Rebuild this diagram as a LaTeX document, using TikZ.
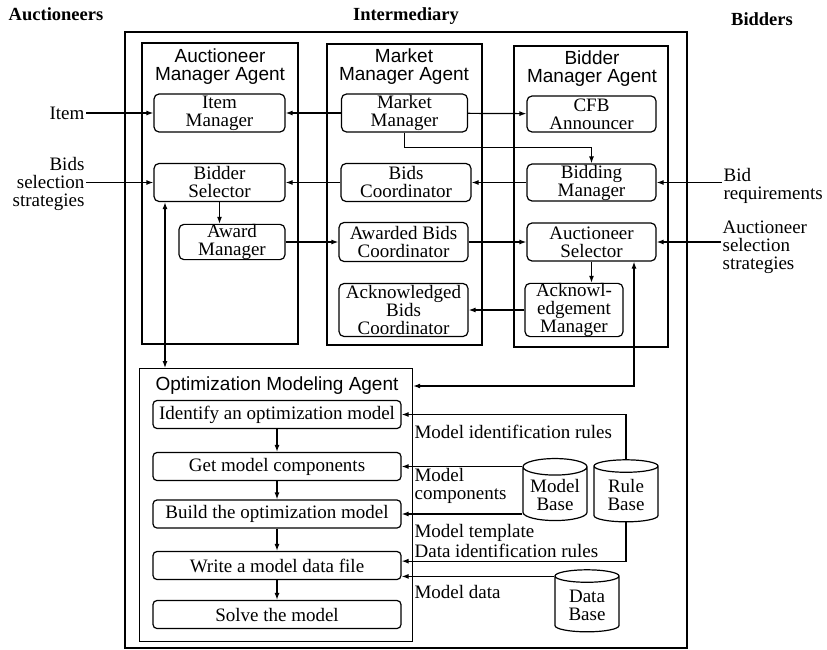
\documentclass[tikz,border=0pt]{standalone}
\usepackage{fontspec}
\setmainfont{Liberation Serif}
\setsansfont{Liberation Sans}
\usetikzlibrary{arrows.meta, shapes.geometric}

\begin{document}
\begin{tikzpicture}[x=1pt, y=-1pt, line width=1.2pt, >={Latex[length=7pt,width=5pt]},
  txt/.style={font=\fontsize{19}{18}\selectfont, inner sep=1pt},
  title/.style={txt, font=\fontsize{18.5}{18}\selectfont\bfseries},
  head/.style={font=\sffamily\fontsize{19}{18}\selectfont, align=center, inner sep=0pt},
  unit/.style={txt, draw, rounded corners=5pt, align=center, inner ysep=0pt},
  stage/.style={txt, draw, rounded corners=4pt, minimum width=248pt, minimum height=28pt, inner ysep=0pt},
  store/.style={txt, draw, cylinder, shape border rotate=90, aspect=0.32, minimum width=64pt, minimum height=62pt, align=center},
  lbl/.style={txt, align=left, anchor=west}]
\useasboundingbox (0,0) rectangle (827,650);

\node[title] (tauc) at (56,14) {Auctioneers};
\node[title] (tint) at (406,16) {Intermediary};
\node[title] (tbid) at (762,19) {Bidders};

\draw (125,32) rectangle (687,648);
\draw (142,43) rectangle (298,344);
\draw (327,44) rectangle (482,345);
\draw (514,46) rectangle (668,347);
\node[head] (hauc) at (220,67) {Auctioneer\\Manager Agent};
\node[head] (hmkt) at (404,67) {Market\\Manager Agent};
\node[head] (hbid) at (592,69) {Bidder\\Manager Agent};

\node[unit, minimum width=131pt, minimum height=38pt] (im) at (219.5,113) {Item\\Manager};
\node[unit, minimum width=131pt, minimum height=38pt] (bs) at (219.5,182.5) {Bidder\\Selector};
\node[unit, minimum width=106pt, minimum height=35pt] (am) at (232,242) {Award\\Manager};
\node[unit, minimum width=126pt, minimum height=38pt] (mm) at (404.5,113) {Market\\Manager};
\node[unit, minimum width=130pt, minimum height=38pt] (bc) at (406,182.5) {Bids\\Coordinator};
\node[unit, minimum width=129pt, minimum height=39pt] (abc) at (403.5,242) {Awarded Bids\\Coordinator};
\node[unit, minimum width=129pt, minimum height=53pt] (kbc) at (403.5,310) {Acknowledged\\Bids\\Coordinator};
\node[unit, minimum width=129pt, minimum height=36pt] (cfb) at (591.5,114) {CFB\\Announcer};
\node[unit, minimum width=129pt, minimum height=37pt] (bm) at (591.5,182.5) {Bidding\\Manager};
\node[unit, minimum width=129pt, minimum height=38pt] (as) at (591.5,242) {Auctioneer\\Selector};
\node[unit, minimum width=98pt, minimum height=53pt] (km) at (574,310) {Acknowl-\\edgement\\Manager};

\node[draw, minimum width=273pt, minimum height=273pt, anchor=north west, inner sep=0pt] (oma) at (139,368) {};
\node[head] (homa) at (277,386) {Optimization Modeling Agent};
\node[stage] (s1) at (277,414.5) {Identify an optimization model};
\node[stage] (s2) at (277,466.5) {Get model components};
\node[stage] (s3) at (277,514) {Build the optimization model};
\node[stage] (s4) at (277,565.5) {Write a model data file};
\node[stage] (s5) at (277,614.5) {Solve the model};

\node[store] (mb) at (555,495) {Model\\Base};
\node[store] (rb) at (626,495) {Rule\\Base};
\node[store] (db) at (587,605) {Data\\Base};

\node[lbl, anchor=east, align=right] (litem) at (86,113) {Item};
\node[lbl, anchor=east, align=right] (lbss) at (86,184) {Bids\\selection\\strategies};
\node[lbl] (lbr) at (722,186) {Bid\\requirements};
\node[lbl] (lass) at (721,247) {Auctioneer\\selection\\strategies};
\node[lbl] (lmir) at (413,432) {Model identification rules};
\node[lbl] (lmc) at (413,486) {Model\\components};
\node[lbl] (lmt) at (413,533) {Model template};
\node[lbl] (ldir) at (413,551) {Data identification rules};
\node[lbl] (lmd) at (413,592) {Model data};

\draw[->] (litem) -- (im);
\draw[->] (lbss.east |- bs.west) -- (bs.west);
\draw[->] (mm) -- (im);
\draw[->] (mm) -- (cfb);
\draw[->] (mm.south) -- ++(0,15) -| (bm.north);
\draw[->] (bm) -- (bc);
\draw[->] (bc) -- (bs);
\draw[->] (bs.south) -- (bs.south |- am.north);
\draw[->] (am) -- (abc);
\draw[->] (abc) -- (as);
\draw[->] (as.south) -- (as.south |- km.north);
\draw[->] (km) -- (kbc);
\draw[->] (lbr.west |- bm.east) -- (bm.east);
\draw[->] (lass.west |- as.east) -- (as.east);
\coordinate (otop) at (165,368);
\draw[<->] (bs.south -| otop) -- (otop);
\draw[<->] ([xshift=42.5pt]as.south) |- (homa -| oma.east);
\foreach \a/\b in {s1/s2, s2/s3, s3/s4, s4/s5} \draw[->] (\a) -- (\b);
\draw[->] (rb.north) |- (s1.east);
\draw[->] (s2.east -| mb.west) -- (s2.east);
\draw[->] (s3.east -| mb.west) -- (s3.east);
\draw[->] (rb.south) |- (s4.2);
\draw[->] (s4.-5 -| db.west) -- (s4.-5);
\end{tikzpicture}
\end{document}
